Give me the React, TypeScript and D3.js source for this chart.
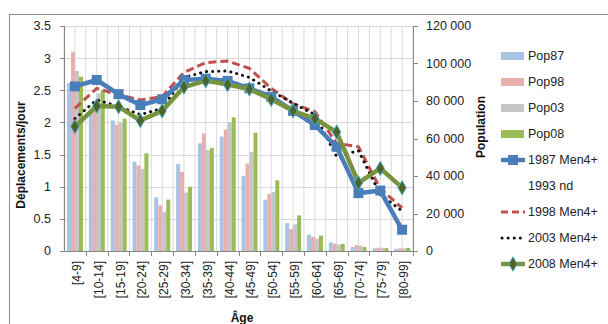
import React from 'react';
import * as d3 from 'd3';

const categories = ["[4-9]", "[10-14]", "[15-19]", "[20-24]", "[25-29]", "[30-34]", "[35-39]", "[40-44]", "[45-49]", "[50-54]", "[55-59]", "[60-64]", "[65-69]", "[70-74]", "[75-79]", "[80-99]"];

const pop87 = [89500, 75400, 69600, 47700, 28600, 46300, 57400, 61000, 40100, 27400, 14900, 8700, 4600, 2100, 1400, 1200];
const pop98 = [106000, 78900, 67500, 45600, 24300, 42200, 62700, 64800, 46600, 30500, 11700, 7500, 3900, 3100, 1700, 1400];
const pop03 = [96000, 84000, 68600, 43900, 20900, 31200, 53800, 68600, 52800, 31500, 14200, 6500, 3400, 2900, 1700, 1400];
const pop08 = [93000, 85700, 70600, 52100, 27400, 34300, 54900, 71300, 63100, 37700, 19000, 8200, 3800, 2100, 1500, 1700];

const men1987 = [2.56, 2.66, 2.44, 2.27, 2.36, 2.66, 2.68, 2.645, 2.53, 2.40, 2.18, 1.96, 1.62, 0.90, 0.94, 0.33];
const men1998 = [2.22, 2.53, 2.43, 2.35, 2.40, 2.78, 2.93, 2.955, 2.84, 2.53, 2.29, 2.17, 1.675, 1.62, 0.97, 0.67];
const men2003 = [2.06, 2.35, 2.25, 2.12, 2.22, 2.70, 2.79, 2.80, 2.70, 2.49, 2.30, 2.12, 1.47, 1.56, 0.88, 0.62];
const men2008 = [1.935, 2.255, 2.245, 2.03, 2.18, 2.55, 2.65, 2.59, 2.52, 2.36, 2.18, 2.06, 1.85, 1.06, 1.285, 0.985];

const leftTicks = [0, 0.5, 1, 1.5, 2, 2.5, 3, 3.5];
const rightTicks = [0, 20000, 40000, 60000, 80000, 100000, 120000];

const popKeys = ["Pop87", "Pop98", "Pop03", "Pop08"];
const popSeries = [pop87, pop98, pop03, pop08];
const popColors = ["#A9C3E3", "#E8AFAE", "#C6C6C6", "#9BBB59"];

const FONT = "'Liberation Sans', Arial, sans-serif";

const L = 64, R = 413, T = 26, B = 251;

export default function App() {
  const x0 = d3.scaleBand().domain(categories).range([L, R]).paddingInner(0).paddingOuter(0);
  const bw = x0.bandwidth();
  const x1 = d3.scaleBand().domain(popKeys).range([bw * 0.14, bw * 0.87]).paddingInner(0);
  const yL = d3.scaleLinear().domain([0, 3.5]).range([B, T]);
  const yR = d3.scaleLinear().domain([0, 120000]).range([B, T]);
  const loc = d3.formatLocale({ decimal: ".", thousands: " ", grouping: [3], currency: ["", ""] });
  const fmtR = loc.format(",");
  const fmtL = d3.format("");

  const cx = (c: string) => (x0(c) as number) + bw / 2;
  const line = d3.line<number>().x((_, i) => cx(categories[i])).y((d) => yL(d));

  const vgrid: number[] = [];
  for (let i = 0; i <= categories.length * 2; i++) vgrid.push(L + (bw / 2) * i);

  const diamond = d3.symbol().type(d3.symbolDiamond).size(60)();
  const legX = 501, legTX = 528;
  const legRows = [56, 82, 108, 134, 160, 186, 212, 238, 264];

  return (
    <svg width={608} height={324} style={{ position: 'absolute', left: 0, top: 0, background: '#fff' }} fontFamily={FONT}>
      <rect x={9.5} y={14.5} width={620} height={330} fill="#fff" stroke="#8C8C8C" strokeWidth={1} />
      {/* grid */}
      {vgrid.map((gx, i) => (
        <line key={'v' + i} x1={gx} x2={gx} y1={T} y2={B} stroke="#D9D9D9" strokeWidth={1} />
      ))}
      {leftTicks.slice(1).map((t) => (
        <line key={'h' + t} x1={L} x2={R} y1={Math.round(yL(t)) + 0.5} y2={Math.round(yL(t)) + 0.5} stroke="#D9D9D9" strokeWidth={1} />
      ))}
      {/* bars */}
      {popSeries.map((s, si) => (
        <g key={popKeys[si]} fill={popColors[si]}>
          {s.map((v, i) => (
            <rect key={i} x={(x0(categories[i]) as number) + (x1(popKeys[si]) as number)} width={x1.bandwidth()} y={yR(v)} height={B - yR(v)} />
          ))}
        </g>
      ))}
      {/* lines */}
      <path d={line(men1998) || ''} fill="none" stroke="#C0504D" strokeWidth={3} strokeDasharray="8 4" />
      <path d={line(men2003) || ''} fill="none" stroke="#111" strokeWidth={3} strokeDasharray="0.1 6" strokeLinecap="round" />
      <path d={line(men1987) || ''} fill="none" stroke="#4A7EBB" strokeWidth={4.5} strokeLinejoin="round" />
      {men1987.map((v, i) => (
        <rect key={'m87' + i} x={cx(categories[i]) - 5} y={yL(v) - 5} width={10} height={10} fill="#4A7EBB" />
      ))}
      <path d={line(men2008) || ''} fill="none" stroke="#77933C" strokeWidth={4.5} strokeLinejoin="round" />
      {men2008.map((v, i) => (
        <path key={'m08' + i} d={diamond || ''} transform={`translate(${cx(categories[i])},${yL(v)})`} fill="#4F6228" stroke="#4BACC6" strokeWidth={1} />
      ))}
      {/* axes */}
      <line x1={L + 0.5} x2={L + 0.5} y1={T} y2={B} stroke="#868686" />
      <line x1={R + 0.5} x2={R + 0.5} y1={T} y2={B} stroke="#868686" />
      <line x1={L} x2={R} y1={B + 0.5} y2={B + 0.5} stroke="#868686" />
      {leftTicks.map((t) => (
        <g key={'lt' + t}>
          <line x1={L - 4} x2={L} y1={Math.round(yL(t)) + 0.5} y2={Math.round(yL(t)) + 0.5} stroke="#868686" />
          <text x={51} y={yL(t)} dy="0.35em" textAnchor="end" fontSize={12.5} fill="#222">{fmtL(t)}</text>
        </g>
      ))}
      {rightTicks.map((t) => (
        <g key={'rt' + t}>
          <line x1={R} x2={R + 5} y1={Math.round(yR(t)) + 0.5} y2={Math.round(yR(t)) + 0.5} stroke="#868686" />
          <text x={426} y={yR(t)} dy="0.35em" textAnchor="start" fontSize={12.5} fill="#222">{fmtR(t)}</text>
        </g>
      ))}
      {categories.map((c, i) => (
        <g key={'c' + c}>
          <line x1={Math.round(L + bw * (i + 1)) + 0.5} x2={Math.round(L + bw * (i + 1)) + 0.5} y1={B} y2={B + 5} stroke="#868686" />
          <text transform={`translate(${cx(c) + 6},261) rotate(-90)`} textAnchor="end" fontSize={12} fill="#222">{c}</text>
        </g>
      ))}
      {/* titles */}
      <text transform="translate(25,155) rotate(-90)" textAnchor="middle" fontSize={12} fontWeight="bold" fill="#111">Déplacements/jour</text>
      <text transform="translate(485,127) rotate(-90)" textAnchor="middle" fontSize={12} fontWeight="bold" fill="#111">Population</text>
      <text x={242} y={322} textAnchor="middle" fontSize={12} fontWeight="bold" fill="#111">Âge</text>
      {/* legend */}
      {popKeys.map((k, i) => (
        <g key={'lg' + k}>
          <rect x={legX} y={legRows[i] - 4} width={23} height={8} fill={popColors[i]} />
          <text x={legTX} y={legRows[i]} dy="0.35em" fontSize={12.5} fill="#222">{k}</text>
        </g>
      ))}
      <g>
        <line x1={legX} x2={legX + 24} y1={legRows[4]} y2={legRows[4]} stroke="#4A7EBB" strokeWidth={4.5} />
        <rect x={legX + 7} y={legRows[4] - 5} width={10} height={10} fill="#4A7EBB" />
        <text x={legTX} y={legRows[4]} dy="0.35em" fontSize={12.5} fill="#222">1987 Men4+</text>
      </g>
      <text x={legTX} y={legRows[5]} dy="0.35em" fontSize={12.5} fill="#222">1993 nd</text>
      <g>
        <line x1={legX} x2={legX + 24} y1={legRows[6]} y2={legRows[6]} stroke="#C0504D" strokeWidth={3} strokeDasharray="7 4" />
        <text x={legTX} y={legRows[6]} dy="0.35em" fontSize={12.5} fill="#222">1998 Men4+</text>
      </g>
      <g>
        <line x1={legX + 1} x2={legX + 24} y1={legRows[7]} y2={legRows[7]} stroke="#111" strokeWidth={3} strokeDasharray="0.1 6" strokeLinecap="round" />
        <text x={legTX} y={legRows[7]} dy="0.35em" fontSize={12.5} fill="#222">2003 Men4+</text>
      </g>
      <g>
        <line x1={legX} x2={legX + 24} y1={legRows[8]} y2={legRows[8]} stroke="#77933C" strokeWidth={4.5} />
        <path d={diamond || ''} transform={`translate(${legX + 12},${legRows[8]})`} fill="#4F6228" stroke="#4BACC6" strokeWidth={1} />
        <text x={legTX} y={legRows[8]} dy="0.35em" fontSize={12.5} fill="#222">2008 Men4+</text>
      </g>
    </svg>
  );
}
